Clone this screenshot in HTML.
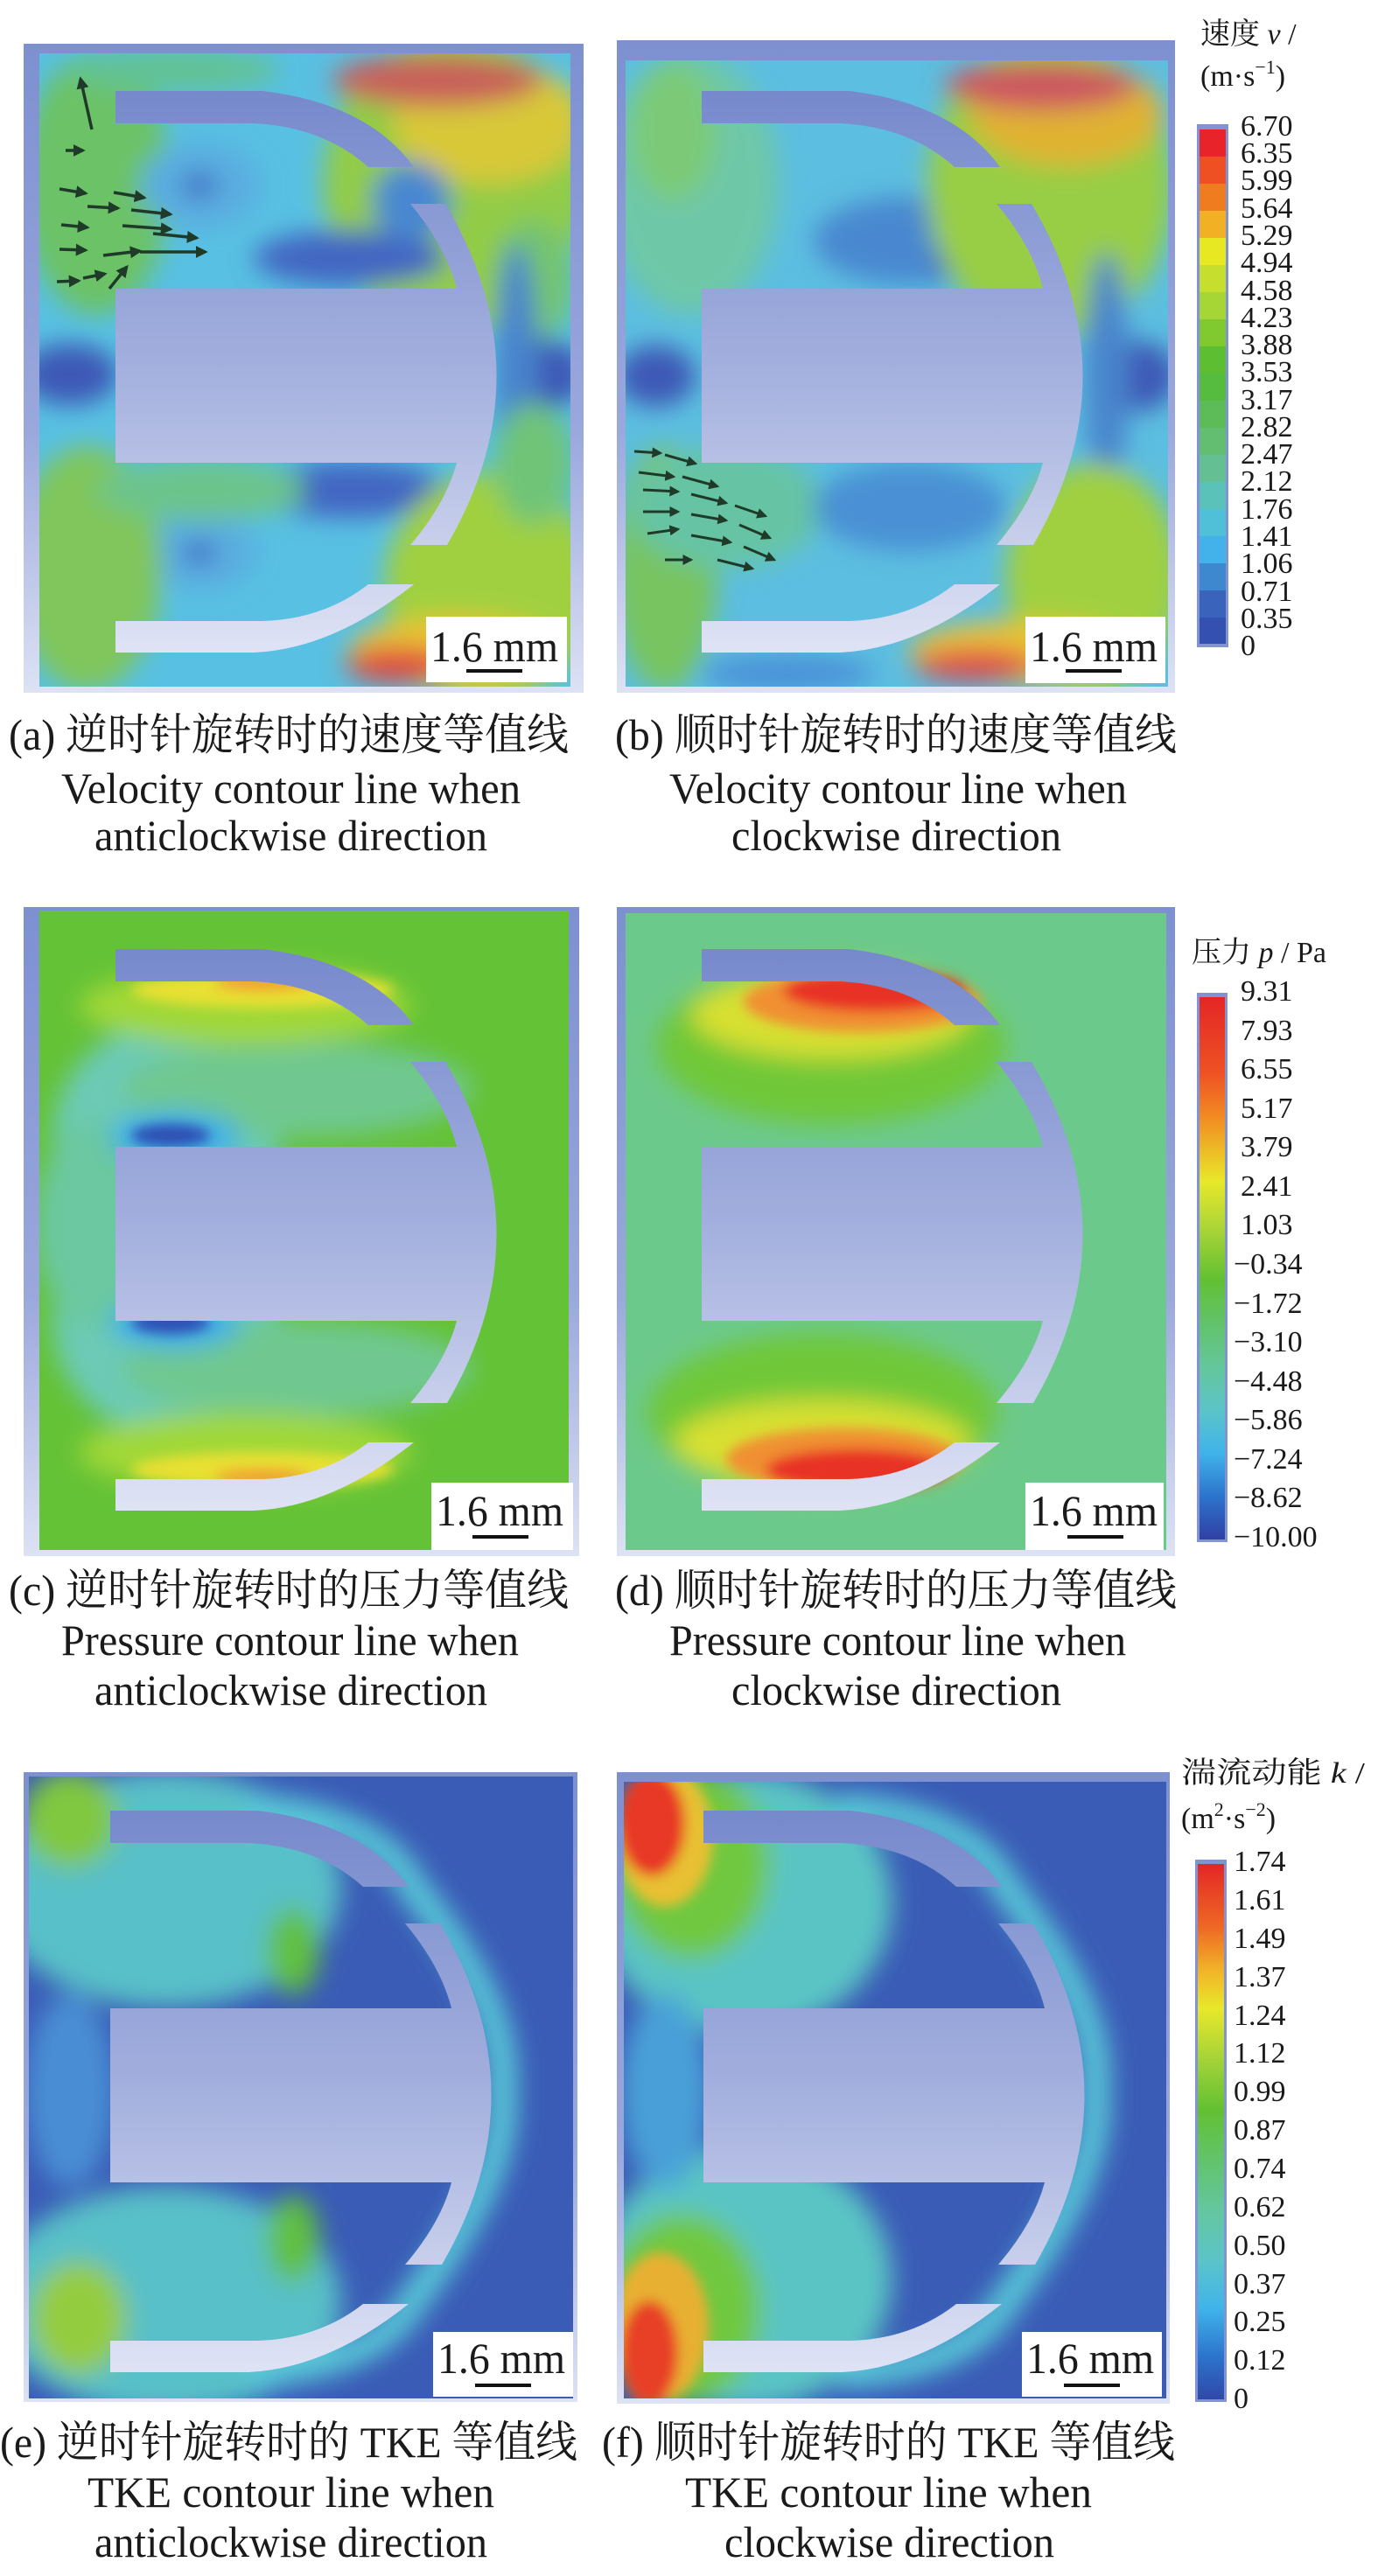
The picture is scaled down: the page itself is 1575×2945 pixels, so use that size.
<!DOCTYPE html>
<html><head><meta charset="utf-8"><style>
html,body{margin:0;padding:0;background:#fff}
svg{display:block}
svg text{font-family:"Liberation Serif","Noto Serif CJK SC","Noto Sans CJK SC",serif;fill:#1a1a1a}
</style></head><body>
<svg width="1575" height="2945" viewBox="0 0 1575 2945" xmlns="http://www.w3.org/2000/svg" font-family="'Liberation Serif', 'Noto Serif CJK SC', serif">
<defs>
<filter id="bl" x="-20%" y="-20%" width="140%" height="140%"><feGaussianBlur stdDeviation="14"/></filter>
<filter id="bl2" x="-20%" y="-20%" width="140%" height="140%"><feGaussianBlur stdDeviation="7"/></filter>
<linearGradient id="sg" x1="0" y1="0" x2="0" y2="1"><stop offset="0" stop-color="#7689cc"/><stop offset="0.5" stop-color="#a4b0de"/><stop offset="1" stop-color="#dfe3f5"/></linearGradient>
<linearGradient id="fg" x1="0" y1="0" x2="0" y2="1"><stop offset="0" stop-color="#7d90d0"/><stop offset="0.6" stop-color="#9aa8dc"/><stop offset="1" stop-color="#dde2f4"/></linearGradient>
<linearGradient id="pg" x1="0" y1="0" x2="0" y2="1">
<stop offset="0" stop-color="#e42626"/><stop offset="0.14" stop-color="#ee5224"/><stop offset="0.22" stop-color="#f28a22"/><stop offset="0.34" stop-color="#e8e82a"/><stop offset="0.43" stop-color="#a8d438"/><stop offset="0.52" stop-color="#62c032"/><stop offset="0.6" stop-color="#62c36a"/><stop offset="0.68" stop-color="#64c69a"/><stop offset="0.76" stop-color="#5cc4c8"/><stop offset="0.84" stop-color="#40b4ea"/><stop offset="0.92" stop-color="#2c74cc"/><stop offset="1" stop-color="#3040a4"/></linearGradient>
<linearGradient id="kg" x1="0" y1="0" x2="0" y2="1">
<stop offset="0" stop-color="#e42626"/><stop offset="0.12" stop-color="#ee6a24"/><stop offset="0.2" stop-color="#f2b428"/><stop offset="0.27" stop-color="#e8e82a"/><stop offset="0.36" stop-color="#a8d438"/><stop offset="0.46" stop-color="#62c032"/><stop offset="0.55" stop-color="#62c36a"/><stop offset="0.65" stop-color="#64c6a0"/><stop offset="0.74" stop-color="#5cc4c8"/><stop offset="0.83" stop-color="#40b4ea"/><stop offset="0.92" stop-color="#2c74cc"/><stop offset="1" stop-color="#3048a8"/></linearGradient>
<path id="solid" d="M132,104 L300,104 Q420,118 473,191 L421,191 Q370,145 290,141 L132,141 Z M469,233 L509,233 Q625,428 511,623 L469,623 Q510,575 522,529 L132,529 L132,330 L522,330 Q510,282 469,233 Z M132,746 L290,746 Q380,742 473,668 L421,668 Q370,708 300,710 L132,710 Z"/>
<clipPath id="ca"><rect x="45" y="61" width="607" height="724"/></clipPath>
<clipPath id="cb"><rect x="715" y="69" width="620" height="716"/></clipPath>
<clipPath id="cc"><rect x="45" y="1041" width="605" height="731"/></clipPath>
<clipPath id="cd"><rect x="715" y="1044" width="618" height="728"/></clipPath>
<clipPath id="ce"><rect x="33" y="2031" width="622" height="711"/></clipPath>
<clipPath id="cf"><rect x="713" y="2037" width="620" height="705"/></clipPath>
<marker id="ar" viewBox="0 0 10 10" refX="8" refY="5" markerWidth="4" markerHeight="4" orient="auto"><path d="M0,0 L10,5 L0,10 Z" fill="#1f3a28"/></marker>
</defs>

<rect x="27" y="50" width="640" height="742" fill="url(#fg)"/>
<rect x="705" y="46" width="638" height="746" fill="url(#fg)"/>
<rect x="27" y="1037" width="635" height="742" fill="url(#fg)"/>
<rect x="705" y="1037" width="638" height="742" fill="url(#fg)"/>
<rect x="27" y="2026" width="633" height="720" fill="url(#fg)"/>
<rect x="705" y="2026" width="632" height="722" fill="url(#fg)"/>

<!-- (a) -->
<g clip-path="url(#ca)">
<rect x="45" y="61" width="607" height="724" fill="#58c0e2"/>
<g filter="url(#bl)">
<ellipse cx="110" cy="210" rx="85" ry="150" fill="#6cc266"/>
<ellipse cx="200" cy="80" rx="120" ry="25" fill="#62c294"/>
<ellipse cx="520" cy="210" rx="150" ry="170" fill="#92cc46"/>
<ellipse cx="560" cy="140" rx="110" ry="70" fill="#d8c838"/>
<ellipse cx="500" cy="92" rx="120" ry="30" fill="#c8605a"/>
<ellipse cx="610" cy="320" rx="45" ry="70" fill="#74c470"/>
<ellipse cx="400" cy="295" rx="110" ry="32" fill="#4266c2"/>
<ellipse cx="470" cy="230" rx="45" ry="45" fill="#4a88d0"/>
<ellipse cx="230" cy="212" rx="70" ry="50" fill="#5aaee0"/>
<ellipse cx="228" cy="212" rx="22" ry="15" fill="#4470c6"/>
<ellipse cx="620" cy="428" rx="50" ry="40" fill="#3c58b6"/>
<ellipse cx="80" cy="428" rx="55" ry="35" fill="#3c58b6"/>
<ellipse cx="590" cy="428" rx="25" ry="150" fill="#4884cc"/>
<ellipse cx="400" cy="560" rx="110" ry="32" fill="#4266c2"/>
<ellipse cx="230" cy="630" rx="65" ry="45" fill="#5aaee0"/>
<ellipse cx="228" cy="632" rx="20" ry="14" fill="#4470c6"/>
<ellipse cx="100" cy="650" rx="85" ry="140" fill="#80c65c"/>
<ellipse cx="230" cy="560" rx="120" ry="35" fill="#6cc48c"/>
<ellipse cx="560" cy="670" rx="120" ry="130" fill="#a0d040"/>
<ellipse cx="520" cy="745" rx="120" ry="40" fill="#eac232"/>
<ellipse cx="455" cy="760" rx="60" ry="20" fill="#e04a40"/>
<ellipse cx="610" cy="530" rx="45" ry="70" fill="#70c478"/>
</g>
<g stroke="#1f3a28" stroke-width="3.5" marker-end="url(#ar)">
<line x1="68" y1="216" x2="98" y2="221"/><line x1="130" y1="220" x2="165" y2="226"/><line x1="100" y1="236" x2="135" y2="238"/><line x1="150" y1="240" x2="195" y2="245"/><line x1="70" y1="257" x2="100" y2="260"/><line x1="140" y1="258" x2="195" y2="262"/><line x1="175" y1="267" x2="225" y2="272"/><line x1="68" y1="285" x2="98" y2="286"/><line x1="118" y1="292" x2="160" y2="287"/><line x1="160" y1="288" x2="235" y2="288"/><line x1="65" y1="322" x2="90" y2="321"/><line x1="95" y1="318" x2="120" y2="313"/><line x1="125" y1="330" x2="145" y2="305"/><line x1="75" y1="172" x2="95" y2="172"/><line x1="105" y1="148" x2="92" y2="90"/>
</g>
</g>
<use href="#solid" fill="url(#sg)"/>
<rect x="487" y="705" width="161" height="75" fill="#fff"/>
<text x="492" y="756" font-size="50" textLength="146" lengthAdjust="spacingAndGlyphs">1.6 mm</text>
<rect x="533" y="765" width="64" height="4" fill="#111"/>

<!-- (b) -->
<g clip-path="url(#cb)">
<rect x="715" y="69" width="620" height="716" fill="#5cbee0"/>
<g filter="url(#bl)">
<ellipse cx="790" cy="210" rx="100" ry="150" fill="#6ec8a8"/>
<ellipse cx="770" cy="150" rx="50" ry="80" fill="#7cca78"/>
<ellipse cx="1040" cy="275" rx="110" ry="50" fill="#4a88d0"/>
<ellipse cx="1110" cy="300" rx="45" ry="25" fill="#3e62c0"/>
<ellipse cx="1200" cy="215" rx="140" ry="170" fill="#98ce44"/>
<ellipse cx="1220" cy="130" rx="110" ry="60" fill="#e0b232"/>
<ellipse cx="1190" cy="98" rx="110" ry="28" fill="#cc5660"/>
<ellipse cx="1300" cy="430" rx="45" ry="40" fill="#3c58b6"/>
<ellipse cx="750" cy="430" rx="45" ry="35" fill="#3c58b6"/>
<ellipse cx="1265" cy="428" rx="25" ry="140" fill="#4884cc"/>
<ellipse cx="760" cy="650" rx="60" ry="140" fill="#78c460"/>
<ellipse cx="830" cy="580" rx="110" ry="70" fill="#66c4a4"/>
<ellipse cx="1040" cy="580" rx="110" ry="50" fill="#4a90d4"/>
<ellipse cx="1250" cy="660" rx="100" ry="130" fill="#a0d040"/>
<ellipse cx="1170" cy="745" rx="130" ry="35" fill="#eac232"/>
<ellipse cx="1115" cy="760" rx="70" ry="18" fill="#e04848"/>
<ellipse cx="900" cy="770" rx="100" ry="20" fill="#4a90d8"/>
</g>
<g stroke="#1f3a28" stroke-width="3" marker-end="url(#ar)">
<line x1="725" y1="516" x2="755" y2="518"/><line x1="760" y1="520" x2="795" y2="530"/><line x1="730" y1="540" x2="770" y2="545"/><line x1="780" y1="545" x2="820" y2="556"/><line x1="735" y1="560" x2="775" y2="562"/><line x1="790" y1="565" x2="830" y2="575"/><line x1="840" y1="578" x2="875" y2="590"/><line x1="735" y1="585" x2="775" y2="585"/><line x1="790" y1="588" x2="830" y2="595"/><line x1="845" y1="600" x2="880" y2="615"/><line x1="740" y1="610" x2="775" y2="605"/><line x1="790" y1="612" x2="835" y2="620"/><line x1="850" y1="625" x2="885" y2="640"/><line x1="760" y1="640" x2="790" y2="640"/><line x1="820" y1="640" x2="860" y2="650"/>
</g>
</g>
<use href="#solid" fill="url(#sg)" transform="translate(670,0)"/>
<rect x="1172" y="705" width="160" height="76" fill="#fff"/>
<text x="1177" y="756" font-size="50" textLength="146" lengthAdjust="spacingAndGlyphs">1.6 mm</text>
<rect x="1218" y="765" width="64" height="4" fill="#111"/>

<!-- velocity colorbar -->
<text x="1372" y="50" font-size="34">速度 <tspan font-style="italic">v</tspan> /</text>
<text x="1372" y="98" font-size="34">(m·s<tspan font-size="22" dy="-14">−1</tspan><tspan dy="14">)</tspan></text>
<rect x="1368" y="142" width="36" height="598" fill="#8293d2"/>
<g>
<rect x="1371" y="148" width="30" height="31" fill="#e8242a"/><rect x="1371" y="179" width="30" height="31" fill="#ee5024"/><rect x="1371" y="210" width="30" height="31" fill="#f07c20"/><rect x="1371" y="241" width="30" height="31" fill="#f2b024"/><rect x="1371" y="272" width="30" height="31" fill="#e8e822"/><rect x="1371" y="303" width="30" height="31" fill="#c6de2e"/><rect x="1371" y="334" width="30" height="31" fill="#a6d636"/><rect x="1371" y="365" width="30" height="31" fill="#80ca30"/><rect x="1371" y="396" width="30" height="31" fill="#5cbe30"/><rect x="1371" y="427" width="30" height="31" fill="#56bc40"/><rect x="1371" y="458" width="30" height="31" fill="#5ebc58"/><rect x="1371" y="489" width="30" height="31" fill="#64be72"/><rect x="1371" y="520" width="30" height="31" fill="#64c092"/><rect x="1371" y="551" width="30" height="31" fill="#5ac2b8"/><rect x="1371" y="582" width="30" height="31" fill="#50c0d8"/><rect x="1371" y="613" width="30" height="31" fill="#44b2ea"/><rect x="1371" y="644" width="30" height="31" fill="#3e88d0"/><rect x="1371" y="675" width="30" height="31" fill="#3a64bc"/><rect x="1371" y="706" width="30" height="30" fill="#3450b0"/>
</g>
<g font-size="34">
<text x="1418" y="155">6.70</text><text x="1418" y="186">6.35</text><text x="1418" y="217">5.99</text><text x="1418" y="249">5.64</text><text x="1418" y="280">5.29</text><text x="1418" y="311">4.94</text><text x="1418" y="343">4.58</text><text x="1418" y="374">4.23</text><text x="1418" y="405">3.88</text><text x="1418" y="436">3.53</text><text x="1418" y="468">3.17</text><text x="1418" y="499">2.82</text><text x="1418" y="530">2.47</text><text x="1418" y="561">2.12</text><text x="1418" y="593">1.76</text><text x="1418" y="624">1.41</text><text x="1418" y="655">1.06</text><text x="1418" y="687">0.71</text><text x="1418" y="718">0.35</text><text x="1418" y="749">0</text>
</g>

<g font-size="50">
<text x="10" y="857" textLength="640" lengthAdjust="spacingAndGlyphs">(a) 逆时针旋转时的速度等值线</text>
<text x="70" y="918" textLength="525" lengthAdjust="spacingAndGlyphs">Velocity contour line when</text>
<text x="108" y="972" textLength="449" lengthAdjust="spacingAndGlyphs">anticlockwise direction</text>
<text x="703" y="857" textLength="642" lengthAdjust="spacingAndGlyphs">(b) 顺时针旋转时的速度等值线</text>
<text x="765" y="918" textLength="523" lengthAdjust="spacingAndGlyphs">Velocity contour line when</text>
<text x="836" y="972" textLength="377" lengthAdjust="spacingAndGlyphs">clockwise direction</text>
</g>

<!-- (c) -->
<g clip-path="url(#cc)">
<rect x="45" y="1041" width="605" height="731" fill="#64c236"/>
<g filter="url(#bl)">
<ellipse cx="190" cy="1300" rx="130" ry="130" fill="#6ccab6"/>
<ellipse cx="190" cy="1510" rx="130" ry="130" fill="#6ccab6"/>
<ellipse cx="340" cy="1245" rx="200" ry="55" fill="#70c890"/>
<ellipse cx="340" cy="1565" rx="200" ry="55" fill="#70c890"/>
<ellipse cx="110" cy="1400" rx="70" ry="120" fill="#6cc8a0"/>
<ellipse cx="200" cy="1300" rx="75" ry="30" fill="#40b0e8"/>
<ellipse cx="200" cy="1512" rx="75" ry="30" fill="#40b0e8"/>
<ellipse cx="280" cy="1150" rx="190" ry="45" fill="#a0d838"/>
<ellipse cx="280" cy="1660" rx="190" ry="45" fill="#a0d838"/>
</g>
<g filter="url(#bl2)">
<ellipse cx="300" cy="1132" rx="150" ry="20" fill="#e8e030"/>
<ellipse cx="300" cy="1124" rx="55" ry="9" fill="#f0a030"/>
<ellipse cx="300" cy="1680" rx="150" ry="20" fill="#e8e030"/>
<ellipse cx="300" cy="1688" rx="55" ry="9" fill="#f0a030"/>
<ellipse cx="195" cy="1298" rx="45" ry="13" fill="#2f50b4"/>
<ellipse cx="195" cy="1512" rx="45" ry="13" fill="#2f50b4"/>
</g>
</g>
<use href="#solid" fill="url(#sg)" transform="translate(0,981)"/>
<rect x="493" y="1695" width="162" height="77" fill="#fff"/>
<text x="498" y="1744" font-size="50" textLength="146" lengthAdjust="spacingAndGlyphs">1.6 mm</text>
<rect x="540" y="1755" width="64" height="4" fill="#111"/>

<!-- (d) -->
<g clip-path="url(#cd)">
<rect x="715" y="1044" width="618" height="728" fill="#6cc98c"/>
<g filter="url(#bl)">
<ellipse cx="950" cy="1195" rx="200" ry="90" fill="#70c838"/>
<ellipse cx="940" cy="1615" rx="200" ry="90" fill="#70c838"/>
<ellipse cx="950" cy="1160" rx="160" ry="50" fill="#d8e030"/>
<ellipse cx="940" cy="1650" rx="170" ry="50" fill="#d8e030"/>
</g>
<g filter="url(#bl2)">
<ellipse cx="985" cy="1145" rx="135" ry="35" fill="#f09030"/>
<ellipse cx="1000" cy="1133" rx="105" ry="24" fill="#e83028"/>
<ellipse cx="965" cy="1668" rx="135" ry="35" fill="#f09030"/>
<ellipse cx="980" cy="1680" rx="105" ry="24" fill="#e83028"/>
</g>
</g>
<use href="#solid" fill="url(#sg)" transform="translate(670,981)"/>
<rect x="1172" y="1695" width="158" height="77" fill="#fff"/>
<text x="1177" y="1744" font-size="50" textLength="146" lengthAdjust="spacingAndGlyphs">1.6 mm</text>
<rect x="1220" y="1755" width="64" height="4" fill="#111"/>

<text x="1362" y="1100" font-size="34">压力 <tspan font-style="italic">p</tspan> / Pa</text>
<rect x="1368" y="1135" width="35" height="628" fill="#8293d2"/>
<rect x="1371" y="1140" width="29" height="620" fill="url(#pg)"/>
<g font-size="34">
<text x="1418" y="1144">9.31</text><text x="1418" y="1189">7.93</text><text x="1418" y="1233">6.55</text><text x="1418" y="1278">5.17</text><text x="1418" y="1322">3.79</text><text x="1418" y="1367">2.41</text><text x="1418" y="1411">1.03</text><text x="1410" y="1456">−0.34</text><text x="1410" y="1501">−1.72</text><text x="1410" y="1545">−3.10</text><text x="1410" y="1590">−4.48</text><text x="1410" y="1634">−5.86</text><text x="1410" y="1679">−7.24</text><text x="1410" y="1723">−8.62</text><text x="1410" y="1768">−10.00</text>
</g>

<g font-size="50">
<text x="10" y="1835" textLength="640" lengthAdjust="spacingAndGlyphs">(c) 逆时针旋转时的压力等值线</text>
<text x="70" y="1892" textLength="523" lengthAdjust="spacingAndGlyphs">Pressure contour line when</text>
<text x="108" y="1949" textLength="449" lengthAdjust="spacingAndGlyphs">anticlockwise direction</text>
<text x="703" y="1835" textLength="642" lengthAdjust="spacingAndGlyphs">(d) 顺时针旋转时的压力等值线</text>
<text x="765" y="1892" textLength="522" lengthAdjust="spacingAndGlyphs">Pressure contour line when</text>
<text x="836" y="1949" textLength="377" lengthAdjust="spacingAndGlyphs">clockwise direction</text>
</g>

<!-- (e) -->
<g clip-path="url(#ce)">
<rect x="33" y="2031" width="622" height="711" fill="#3a5cb6"/>
<g filter="url(#bl)">
<ellipse cx="190" cy="2160" rx="200" ry="135" fill="#58c0c8"/>
<ellipse cx="190" cy="2630" rx="200" ry="130" fill="#58c0c8"/>
<ellipse cx="80" cy="2390" rx="50" ry="110" fill="#4a8ed4"/>
<ellipse cx="80" cy="2080" rx="55" ry="55" fill="#80c840"/>
<ellipse cx="335" cy="2230" rx="30" ry="50" fill="#60c040"/>
<ellipse cx="90" cy="2650" rx="55" ry="65" fill="#94cc40"/>
<ellipse cx="335" cy="2560" rx="30" ry="50" fill="#60c040"/>
<path d="M280,2066 Q430,2076 472,2158 Q585,2300 573,2390 Q585,2480 472,2630 Q430,2705 280,2714" fill="none" stroke="#58c8d8" stroke-width="34"/>
</g>
</g>
<use href="#solid" fill="url(#sg)" transform="translate(-6,1966)"/>
<rect x="495" y="2666" width="160" height="74" fill="#fff"/>
<text x="500" y="2713" font-size="50" textLength="146" lengthAdjust="spacingAndGlyphs">1.6 mm</text>
<rect x="543" y="2725" width="64" height="4" fill="#111"/>

<!-- (f) -->
<g clip-path="url(#cf)">
<rect x="713" y="2037" width="620" height="705" fill="#3a5cb6"/>
<g filter="url(#bl)">
<ellipse cx="850" cy="2175" rx="170" ry="150" fill="#5ac4c4"/>
<ellipse cx="850" cy="2605" rx="170" ry="150" fill="#5ac4c4"/>
<ellipse cx="760" cy="2390" rx="50" ry="110" fill="#4aa0d8"/>
<ellipse cx="790" cy="2130" rx="90" ry="110" fill="#70c840"/>
<ellipse cx="780" cy="2640" rx="90" ry="110" fill="#70c840"/>
<path d="M958,2066 Q1108,2076 1150,2158 Q1263,2300 1251,2390 Q1263,2480 1150,2630 Q1108,2705 958,2714" fill="none" stroke="#58c8d8" stroke-width="34"/>
</g>
<g filter="url(#bl2)">
<ellipse cx="760" cy="2100" rx="55" ry="80" fill="#e8c030"/>
<ellipse cx="755" cy="2660" rx="55" ry="85" fill="#e8b030"/>
<ellipse cx="745" cy="2085" rx="38" ry="60" fill="#e83828"/>
<ellipse cx="742" cy="2690" rx="33" ry="60" fill="#e84028"/>
</g>
</g>
<use href="#solid" fill="url(#sg)" transform="translate(672,1966)"/>
<rect x="1168" y="2666" width="160" height="74" fill="#fff"/>
<text x="1173" y="2713" font-size="50" textLength="146" lengthAdjust="spacingAndGlyphs">1.6 mm</text>
<rect x="1216" y="2725" width="64" height="4" fill="#111"/>

<text x="1350" y="2038" font-size="34" textLength="210" lengthAdjust="spacingAndGlyphs">湍流动能 <tspan font-style="italic">k</tspan> /</text>
<text x="1350" y="2090" font-size="34">(m<tspan font-size="22" dy="-14">2</tspan><tspan dy="14">·s</tspan><tspan font-size="22" dy="-14">−2</tspan><tspan dy="14">)</tspan></text>
<rect x="1366" y="2126" width="36" height="620" fill="#8293d2"/>
<rect x="1369" y="2131" width="30" height="612" fill="url(#kg)"/>
<g font-size="34">
<text x="1410" y="2139">1.74</text><text x="1410" y="2183">1.61</text><text x="1410" y="2227">1.49</text><text x="1410" y="2271">1.37</text><text x="1410" y="2315">1.24</text><text x="1410" y="2358">1.12</text><text x="1410" y="2402">0.99</text><text x="1410" y="2446">0.87</text><text x="1410" y="2490">0.74</text><text x="1410" y="2534">0.62</text><text x="1410" y="2578">0.50</text><text x="1410" y="2622">0.37</text><text x="1410" y="2665">0.25</text><text x="1410" y="2709">0.12</text><text x="1410" y="2753">0</text>
</g>

<g font-size="50">
<text x="0" y="2809" textLength="660" lengthAdjust="spacingAndGlyphs">(e) 逆时针旋转时的 TKE 等值线</text>
<text x="100" y="2866" textLength="465" lengthAdjust="spacingAndGlyphs">TKE contour  line when</text>
<text x="108" y="2923" textLength="449" lengthAdjust="spacingAndGlyphs">anticlockwise direction</text>
<text x="688" y="2809" textLength="655" lengthAdjust="spacingAndGlyphs">(f) 顺时针旋转时的 TKE 等值线</text>
<text x="783" y="2866" textLength="465" lengthAdjust="spacingAndGlyphs">TKE contour  line when</text>
<text x="828" y="2923" textLength="377" lengthAdjust="spacingAndGlyphs">clockwise direction</text>
</g>
</svg>
</body></html>
